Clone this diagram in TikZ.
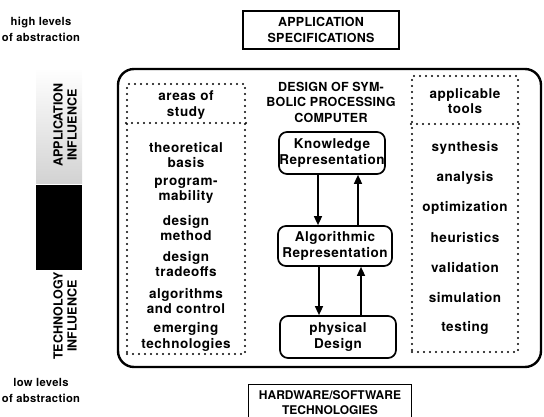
\documentclass[tikz,border=0pt]{standalone}
\usepackage{fontspec}
\setmainfont{TeX Gyre Heros}
\usetikzlibrary{arrows.meta}
\tikzset{
  txt/.style={font=\bfseries\fontsize{13.5}{15.5}\selectfont\addfontfeature{LetterSpace=4}, align=center, inner sep=0pt},
  caps/.style={font=\bfseries\fontsize{12.5}{15.5}\selectfont\addfontfeature{LetterSpace=2}, align=center, inner sep=0pt},
  level/.style={font=\bfseries\fontsize{11.2}{16}\selectfont\addfontfeature{LetterSpace=3}, align=center, inner sep=0pt},
  side/.style={font=\bfseries\fontsize{12.5}{14}\selectfont, align=center, inner sep=0pt, rotate=90},
  plainbox/.style={draw, line width=1.3pt, inner sep=0pt},
  stage/.style={txt, draw, line width=1.7pt, rounded corners=8pt},
  dotbox/.style={draw, line width=2.2pt, line cap=round, dash pattern=on 0pt off 6pt, inner sep=0pt},
  dotline/.style={line width=2.2pt, line cap=round, dash pattern=on 0pt off 6pt},
  flow/.style={line width=1.5pt, -{Triangle[length=9pt, width=8pt]}},
}
\begin{document}
\begin{tikzpicture}[x=1pt, y=-1pt]
\useasboundingbox (0,0) rectangle (544,417);
\clip (0,0) rectangle (544,417);

% abstraction levels
\node[level] (high) at (41,29) {high levels\\of abstraction};
\node[level] (low)  at (41,390) {low levels\\of abstraction};

% influence bar
\shade[top color=white, bottom color=gray!35] (36,68) rectangle (82,184);
\fill[black] (36,185) rectangle (82,270);
\node[side] (appinf)  at (65,125) {APPLICATION\\INFLUENCE};
\node[side] (techinf) at (65,316) {TECHNOLOGY\\INFLUENCE};

% top and bottom boxes
\node[plainbox, minimum width=156, minimum height=38] (spec) at (321,30) {};
\node[caps] (spectext) at (321,30) {APPLICATION\\SPECIFICATIONS};
\node[plainbox, minimum width=163, minimum height=50, anchor=north] (hw) at (330,384) {};
\node[caps, font=\bfseries\fontsize{12}{15}\selectfont] (hwtext) at (330,403) {HARDWARE/SOFTWARE\\TECHNOLOGIES};

% main frame
\draw[line width=2.4pt, rounded corners=16pt] (118,69) rectangle (541,367);

% title
\node[caps] (title) at (331,102) {DESIGN OF SYM-\\BOLIC PROCESSING\\COMPUTER};

% design stages
\node[stage, minimum width=106, minimum height=42] (kr) at (332,153) {Knowledge\\Representation};
\node[stage, minimum width=114, minimum height=40] (ar) at (335,246) {Algorithmic\\Representation};
\node[stage, minimum width=116, minimum height=42] (pd) at (338,337) {physical\\Design};

\coordinate (d1) at (318,0);
\coordinate (u1) at (358,0);
\coordinate (d2) at (319,0);
\coordinate (u2) at (361,0);
\draw[flow] (kr.south -| d1) -- (ar.north -| d1);
\draw[flow] (ar.north -| u1) -- (kr.south -| u1);
\draw[flow] (ar.south -| d2) -- (pd.north -| d2);
\draw[flow] (pd.north -| u2) -- (ar.south -| u2);

% areas of study
\node[dotbox, minimum width=118, minimum height=270] (areas) at (186,219) {};
\coordinate (sepL) at (0,123);
\draw[dotline] (areas.west |- sepL) -- (areas.east |- sepL);
\node[txt] (areashead) at (186,105) {areas of\\study};
\node[txt] (a1) at (186,155) {theoretical\\basis};
\node[txt] (a2) at (186,191) {program-\\mability};
\node[txt] (a3) at (186,228) {design\\method};
\node[txt] (a4) at (186,264) {design\\tradeoffs};
\node[txt] (a5) at (186,301) {algorithms\\and control};
\node[txt] (a6) at (186,337) {emerging\\technologies};

% applicable tools
\node[dotbox, minimum width=106, minimum height=276] (tools) at (465,214) {};
\coordinate (sepR) at (0,124);
\draw[dotline] (tools.west |- sepR) -- (tools.east |- sepR);
\node[txt] (toolshead) at (465,101) {applicable\\tools};
\node[txt] (t1) at (465,148) {synthesis};
\node[txt] (t2) at (465,178) {analysis};
\node[txt] (t3) at (465,208) {optimization};
\node[txt] (t4) at (465,238) {heuristics};
\node[txt] (t5) at (465,268) {validation};
\node[txt] (t6) at (465,298) {simulation};
\node[txt] (t7) at (465,328) {testing};
\end{tikzpicture}
\end{document}
